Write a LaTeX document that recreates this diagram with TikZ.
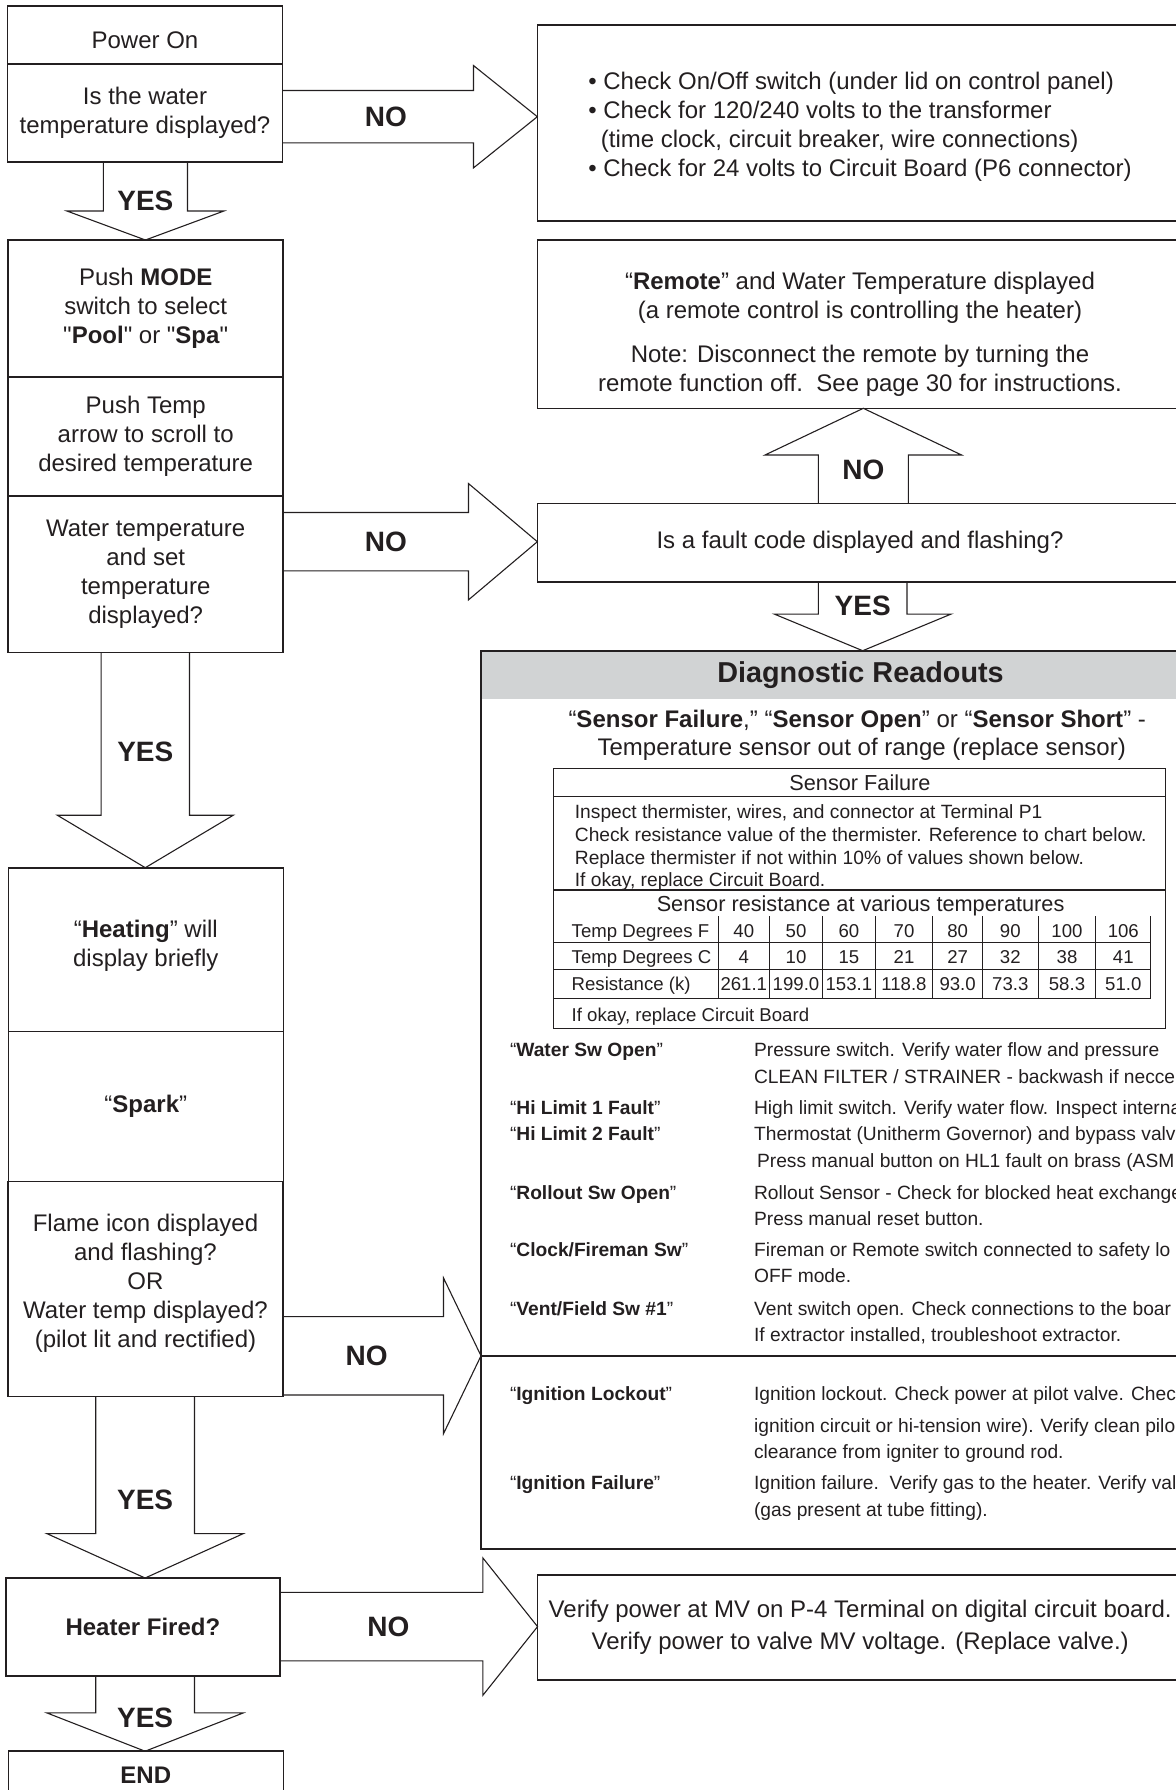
\documentclass[tikz,border=0pt]{standalone}
\usepackage{fontspec}
\setmainfont{Liberation Sans}[Ligatures=TeXOff]
\usetikzlibrary{calc}
\definecolor{ink}{RGB}{35,31,32}
\definecolor{headgray}{RGB}{209,211,212}

% block arrows: source, target, axis position, half shaft, half head, head length, label position, label
\newcommand{\fatright}[8]{%
  \draw[fatarrow] (#1.east |- 0,#3-#4) -- ($(#2.west |- 0,#3-#4)+(-#6,0)$)
    -- ($(#2.west |- 0,#3-#5)+(-#6,0)$) -- (#2.west |- 0,#3)
    -- ($(#2.west |- 0,#3+#5)+(-#6,0)$) -- ($(#2.west |- 0,#3+#4)+(-#6,0)$)
    -- (#1.east |- 0,#3+#4);
  \node[fatlabel] (#1-#2) at (#7,#3) {#8};}
\newcommand{\fatdown}[8]{%
  \draw[fatarrow] (#1.south -| #3-#4,0) -- ($(#2.north -| #3-#4,0)+(0,-#6)$)
    -- ($(#2.north -| #3-#5,0)+(0,-#6)$) -- (#2.north -| #3,0)
    -- ($(#2.north -| #3+#5,0)+(0,-#6)$) -- ($(#2.north -| #3+#4,0)+(0,-#6)$)
    -- (#1.south -| #3+#4,0);
  \node[fatlabel] (#1-#2) at (#3,#7) {#8};}
\newcommand{\fatup}[8]{%
  \draw[fatarrow] (#1.north -| #3-#4,0) -- ($(#2.south -| #3-#4,0)+(0,#6)$)
    -- ($(#2.south -| #3-#5,0)+(0,#6)$) -- (#2.south -| #3,0)
    -- ($(#2.south -| #3+#5,0)+(0,#6)$) -- ($(#2.south -| #3+#4,0)+(0,#6)$)
    -- (#1.north -| #3+#4,0);
  \node[fatlabel] (#1-#2) at (#3,#7) {#8};}

\begin{document}
\begin{tikzpicture}[
    x=0.5pt, y=-0.5pt, color=ink,
    stepbox/.style={rectangle, draw=ink, line width=0.8pt, inner sep=0pt, outer sep=0pt,
      minimum width=137.5pt, align=center, font=\fontsize{12}{14.5}\selectfont},
    infobox/.style={stepbox, minimum width=322.65pt},
    boxtext/.style={inner sep=0pt, align=center, font=\fontsize{12}{14.5}\selectfont},
    headbar/.style={rectangle, fill=headgray, inner sep=0pt, minimum width=379.5pt,
      minimum height=24.3pt, font=\fontsize{14.4}{17}\selectfont\bfseries},
    diagbox/.style={rectangle, draw=ink, line width=0.9pt, inner sep=0pt, outer sep=0pt,
      minimum width=379.5pt, minimum height=449.3pt},
    tablebox/.style={rectangle, draw=ink, line width=0.7pt, inner sep=0pt, outer sep=0pt,
      minimum width=305.95pt, minimum height=130pt},
    tabline/.style={draw=ink, line width=0.6pt},
    fatarrow/.style={draw=ink, line width=0.55pt, line join=miter},
    fatlabel/.style={inner sep=0pt, text height=10pt, text depth=0pt,
      font=\fontsize{14}{16}\selectfont\bfseries},
    plainline/.style={inner sep=0pt, text height=8.6pt, text depth=0pt,
      font=\fontsize{12}{14.5}\selectfont},
    tabtitle/.style={inner sep=0pt, text height=7.8pt, text depth=0pt,
      font=\fontsize{10.85}{13}\selectfont},
    listtext/.style={anchor=west, inner sep=0pt, text height=6.9pt, text depth=0pt,
      font=\fontsize{9.6}{11.5}\selectfont},
    cell/.style={inner sep=0pt, text height=6.7pt, text depth=0pt,
      font=\fontsize{9.3}{11}\selectfont}
  ]
  \useasboundingbox (0,0) rectangle (1176,1790);
  \clip (0,0) rectangle (1176,1790);

  % --- Left column: steps ---
  \node[stepbox, minimum height=29.15pt, text height=13.6pt, text depth=0pt] (pwr) at (145,34.85) {Power On};
  \node[stepbox, minimum height=48.85pt] (q1) at (145,112.85) {Is the water\\temperature displayed?};
  \node[stepbox, minimum height=68.5pt] (mode) at (145.7,308.5) {Push \textbf{MODE}\\switch to select\\"\textbf{Pool}" or "\textbf{Spa}"};
  \node[stepbox, minimum height=59.35pt] (temp) at (145.7,436.35) {Push Temp\\arrow to scroll to\\desired temperature};
  \node[stepbox, minimum height=78.4pt] (q2) at (145.7,574.1) {Water temperature\\and set\\temperature\\displayed?};
  \node[stepbox, minimum height=81.9pt] (heat) at (145.8,949.6) {};
  \node[boxtext] (heattext) at (145.8,945.3) {“\textbf{Heating}” will\\display briefly};
  \node[stepbox, minimum height=75pt] (spark) at (145.8,1106.5) {“\textbf{Spark}”};
  \node[stepbox, minimum height=107.45pt] (q3) at (145.5,1288.95) {};
  \node[boxtext] (q3text) at (145.5,1283.7) {Flame icon displayed\\and flashing?\\OR\\Water temp displayed?\\(pilot lit and rectified)};
  \node[stepbox, minimum height=49pt, minimum width=137.2pt] (fired) at (142.9,1627) {\textbf{Heater Fired?}};
  \node[stepbox, minimum height=24.4pt] (endbox) at (145.8,1775.6) {\textbf{END}};

  % --- Right column: checks ---
  \node[infobox, minimum height=98pt] (chk) at (860,123) {};
  \node[boxtext, align=left] (chktext) at (860,126.9) {• Check On/Off switch (under lid on control panel)\\• Check for 120/240 volts to the transformer\\\hspace*{0.52em}(time clock, circuit breaker, wire connections)\\• Check for 24 volts to Circuit Board (P6 connector)};
  \node[infobox, minimum height=84.15pt] (remote) at (860,324.15) {};
  \node[boxtext] (remotetext) at (860,334.7) {“\textbf{Remote}” and Water Temperature displayed\\(a remote control is controlling the heater)\\[7.5pt]Note: Disconnect the remote by turning the\\remote function off.\ \ See page 30 for instructions.};
  \node[infobox, minimum height=39.2pt] (fault) at (860,542.5) {Is a fault code displayed and flashing?};
  \node[headbar] (diaghead) at (860.5,675) {Diagnostic Readouts};
  \node[diagbox] (diag) at (860.5,1100) {};
  \node[infobox, minimum height=52.5pt] (verify) at (860.2,1627.5) {Verify power at MV on P-4 Terminal on digital circuit board.\\[1.4pt]Verify power to valve MV voltage. (Replace valve.)};

  % --- Diagnostic readouts: sensor failure ---
  \node[plainline] (sensor1) at (857.2,719.3) {“\textbf{Sensor Failure},” “\textbf{Sensor Open}” or “\textbf{Sensor Short}” -};
  \node[plainline] (sensor2) at (861.7,747.3) {Temperature sensor out of range (replace sensor)};
  \node[tablebox] (sfbox) at (859.65,898.3) {};
  \node[tabtitle] (sftitle) at (860,782.7) {Sensor Failure};
  \node[listtext] (sfp1) at (574.5,811.7) {Inspect thermister, wires, and connector at Terminal P1};
  \node[listtext] (sfp2) at (574.5,834.3) {Check resistance value of the thermister. Reference to chart below.};
  \node[listtext] (sfp3) at (574.5,857.7) {Replace thermister if not within 10\% of values shown below.};
  \node[listtext] (sfp4) at (574.5,880) {If okay, replace Circuit Board.};
  \node[tabtitle] (sfres) at (860.6,903.3) {Sensor resistance at various temperatures};
  \draw[tabline] (sfbox.west |- 0,796.7) -- (sfbox.east |- 0,796.7);
  \draw[tabline] (sfbox.west |- 0,890) -- (sfbox.east |- 0,890);
  \draw[tabline] (sfbox.west |- 0,942.3) -- (1150.8,942.3);
  \draw[tabline] (sfbox.west |- 0,969.3) -- (1150.8,969.3);
  \draw[tabline] (sfbox.west |- 0,998.3) -- (1150.8,998.3);
  \draw[tabline] (718.1,916) -- (718.1,998.3) (769.4,916) -- (769.4,998.3)
    (822.5,916) -- (822.5,998.3) (875.2,916) -- (875.2,998.3)
    (932.8,916) -- (932.8,998.3) (982.4,916) -- (982.4,998.3)
    (1038.2,916) -- (1038.2,998.3) (1095.8,916) -- (1095.8,998.3)
    (1150.8,916) -- (1150.8,998.3);
  \node[cell, anchor=west] (rowf) at (571.3,931) {Temp Degrees F};
  \node[cell, anchor=west] (rowc) at (571.3,956.7) {Temp Degrees C};
  \node[cell, anchor=west] (rowr) at (571.3,983.3) {Resistance (k)};
  \path node[cell] (tf1) at (743.8,931) {40} node[cell] (tf2) at (796,931) {50}
    node[cell] (tf3) at (848.9,931) {60} node[cell] (tf4) at (904,931) {70}
    node[cell] (tf5) at (957.6,931) {80} node[cell] (tf6) at (1010.3,931) {90}
    node[cell] (tf7) at (1067,931) {100} node[cell] (tf8) at (1123.3,931) {106};
  \path node[cell] (tc1) at (743.8,956.7) {4} node[cell] (tc2) at (796,956.7) {10}
    node[cell] (tc3) at (848.9,956.7) {15} node[cell] (tc4) at (904,956.7) {21}
    node[cell] (tc5) at (957.6,956.7) {27} node[cell] (tc6) at (1010.3,956.7) {32}
    node[cell] (tc7) at (1067,956.7) {38} node[cell] (tc8) at (1123.3,956.7) {41};
  \path node[cell] (tr1) at (743.8,983.3) {261.1} node[cell] (tr2) at (796,983.3) {199.0}
    node[cell] (tr3) at (848.9,983.3) {153.1} node[cell] (tr4) at (904,983.3) {118.8}
    node[cell] (tr5) at (957.6,983.3) {93.0} node[cell] (tr6) at (1010.3,983.3) {73.3}
    node[cell] (tr7) at (1067,983.3) {58.3} node[cell] (tr8) at (1123.3,983.3) {51.0};
  \node[cell, anchor=west] (sfok) at (571.3,1015) {If okay, replace Circuit Board};

  % --- Diagnostic readouts: fault list ---
  \node[listtext] (wsw) at (509.6,1050) {“\textbf{Water Sw Open}”};
  \node[listtext] (wsw1) at (753.7,1050) {Pressure switch. Verify water flow and pressure};
  \node[listtext] (wsw2) at (753.7,1076.7) {CLEAN FILTER / STRAINER - backwash if necce};
  \node[listtext] (hl1) at (509.6,1107.3) {“\textbf{Hi Limit 1 Fault}”};
  \node[listtext] (hl2) at (509.6,1134) {“\textbf{Hi Limit 2 Fault}”};
  \node[listtext] (hl1d) at (753.7,1107.3) {High limit switch. Verify water flow. Inspect interna};
  \node[listtext] (hl2d) at (753.7,1134) {Thermostat (Unitherm Governor) and bypass valv};
  \node[listtext] (hl3d) at (753.7,1160.7) {\hspace*{1.5pt}Press manual button on HL1 fault on brass (ASM};
  \node[listtext] (ros) at (509.6,1192.7) {“\textbf{Rollout Sw Open}”};
  \node[listtext] (ros1) at (753.7,1192.7) {Rollout Sensor - Check for blocked heat exchange};
  \node[listtext] (ros2) at (753.7,1218.3) {Press manual reset button.};
  \node[listtext] (cfs) at (509.6,1250) {“\textbf{Clock/Fireman Sw}”};
  \node[listtext] (cfs1) at (753.7,1250) {Fireman or Remote switch connected to safety lo};
  \node[listtext] (cfs2) at (753.7,1276) {OFF mode.};
  \node[listtext] (vfs) at (509.6,1308.3) {“\textbf{Vent/Field Sw \#1}”};
  \node[listtext] (vfs1) at (753.7,1308.3) {Vent switch open. Check connections to the boar};
  \node[listtext] (vfs2) at (753.7,1335) {If extractor installed, troubleshoot extractor.};
  \draw[line width=0.9pt] (diag.west |- 0,1356) -- (diag.east |- 0,1356);
  \node[listtext] (igl) at (509.6,1394) {“\textbf{Ignition Lockout}”};
  \node[listtext] (igl1) at (753.7,1394) {Ignition lockout. Check power at pilot valve. Chec};
  \node[listtext] (igl2) at (753.7,1425.7) {ignition circuit or hi-tension wire). Verify clean pilo};
  \node[listtext] (igl3) at (753.7,1451.7) {clearance from igniter to ground rod.};
  \node[listtext] (igf) at (509.6,1482.7) {“\textbf{Ignition Failure}”};
  \node[listtext] (igf1) at (753.7,1482.7) {Ignition failure.\ \ Verify gas to the heater. Verify val};
  \node[listtext] (igf2) at (753.7,1510) {(gas present at tube fitting).};

  % --- Block arrows ---
  \fatright{q1}{chk}{116.7}{26.2}{51.2}{63.9}{385.8}{NO}
  \fatdown{q1}{mode}{145.4}{42.1}{78.5}{29}{200}{YES}
  \fatright{q2}{fault}{541.7}{29.2}{58.2}{68.9}{385.8}{NO}
  \fatup{fault}{remote}{863.3}{45}{98.3}{46.7}{469.3}{NO}
  \fatdown{fault}{diag}{862.7}{44.3}{88.3}{36.6}{605}{YES}
  \fatdown{q2}{heat}{145.3}{44.2}{88}{52.5}{751}{YES}
  \fatright{q3}{diag}{1355.8}{39.2}{77.9}{37.5}{366.6}{NO}
  \fatdown{q3}{fired}{145.1}{49.4}{98.2}{44.4}{1499}{YES}
  \fatright{fired}{verify}{1626.6}{34.3}{68.7}{54.7}{388.4}{NO}
  \fatdown{fired}{endbox}{145.1}{49.4}{98.2}{38.3}{1717.3}{YES}
\end{tikzpicture}
\end{document}
